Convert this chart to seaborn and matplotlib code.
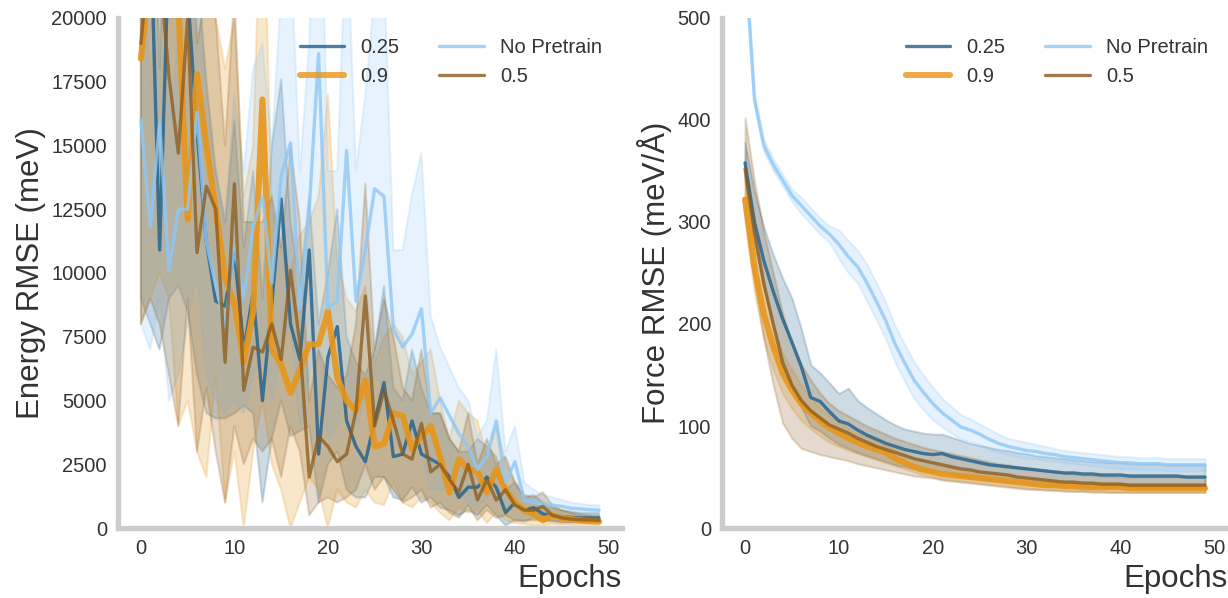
import numpy as np
import pandas as pd
import matplotlib
matplotlib.use("Agg")
import matplotlib.pyplot as plt
import seaborn as sns

epochs = list(range(50))
series_names = ["0.25", "0.9", "No Pretrain", "0.5"]

# ---------------- Energy RMSE (meV) ----------------
energy_mid = {
    "0.25": [20500, 24000, 10900, 23000, 22000, 21000, 15500, 11200, 8900, 8700,
             10800, 7000, 9200, 5000, 8800, 12900, 8000, 6600, 10900, 2900,
             6700, 7900, 4200, 3200, 2600, 4200, 5700, 2800, 2900, 4200,
             2900, 2700, 2500, 2000, 1200, 1600, 1600, 2000, 1600, 600,
             1000, 700, 800, 550, 500, 450, 420, 400, 400, 390],
    "0.9": [18400, 22000, 24000, 21000, 20500, 12100, 17800, 15000, 12500, 9800,
            8800, 6500, 8500, 16800, 7000, 6400, 5300, 6200, 7200, 7200,
            8500, 5900, 5000, 4600, 5800, 3200, 3300, 4500, 4400, 3100,
            3600, 4000, 2800, 1400, 2700, 2300, 2200, 1400, 2300, 1500,
            1000, 700, 550, 300, 500, 400, 350, 300, 270, 250],
    "No Pretrain": [16000, 11800, 15900, 10100, 12500, 12500, 16300, 11200, 9500, 7900,
                    11000, 9000, 11800, 13000, 9600, 13800, 15100, 8600, 12500, 18600,
                    8600, 8900, 14800, 8900, 10900, 13300, 13000, 7800, 7100, 7600,
                    8600, 4500, 5100, 4400, 3700, 3200, 2300, 2800, 4200, 1800,
                    2600, 1100, 1000, 950, 900, 850, 780, 750, 720, 700],
    "0.5": [19000, 23000, 22000, 17700, 14700, 20000, 10800, 13400, 12500, 6500,
            13500, 5400, 7100, 6900, 8000, 6600, 10100, 7200, 2000, 3600,
            3200, 2600, 2900, 4600, 9100, 4000, 5400, 4200, 2900, 2700,
            4100, 2200, 2500, 1900, 1400, 2500, 1100, 1900, 1100, 1500,
            900, 700, 700, 850, 500, 400, 350, 330, 320, 300],
}
energy_low = {
    "0.25": [9000, 8000, 7000, 9000, 9500, 8500, 6000, 4500, 4300, 4300,
             4500, 4800, 4500, 1000, 3500, 5000, 3600, 3800, 4000, 1000,
             2500, 3000, 1500, 1200, 1200, 2000, 2000, 1200, 1100, 1600,
             1000, 1200, 800, 700, 500, 700, 500, 900, 500, 100,
             300, 250, 400, 300, 300, 250, 250, 250, 250, 250],
    "0.9": [8000, 9000, 10000, 9000, 4000, 5000, 3000, 2000, 6000, 1000,
            3000, 0, 3000, 5000, 2500, 1500, 0, 1000, 2000, 1500,
            0, 1500, 1000, 800, 1500, 1000, 900, 1800, 1000, 800,
            1200, 1000, 600, 300, 800, 600, 700, 200, 600, 300,
            200, 150, 100, 100, 150, 120, 100, 100, 100, 100],
    "No Pretrain": [8000, 7000, 9000, 5000, 6000, 8000, 10000, 6000, 5000, 4500,
                    5000, 4500, 6000, 7000, 5000, 7000, 8000, 4000, 6000, 7000,
                    3500, 4000, 6000, 4000, 5000, 6000, 5500, 3500, 3000, 3500,
                    3000, 1500, 1500, 1500, 1500, 1000, 800, 1200, 1500, 800,
                    1000, 500, 500, 500, 500, 500, 500, 500, 500, 500],
    "0.5": [8000, 9000, 8000, 6000, 4000, 9000, 3000, 5500, 3000, 1000,
            4000, 2500, 3500, 3000, 3500, 2000, 4000, 3000, 500, 1000,
            1200, 1000, 1200, 1500, 2500, 1500, 2000, 1500, 1000, 1200,
            1500, 800, 1000, 600, 400, 900, 300, 700, 400, 500,
            300, 300, 300, 300, 250, 200, 200, 200, 200, 200],
}
energy_high = {
    "0.25": [30000, 30000, 18000, 30000, 30000, 28000, 22000, 17500, 14000, 12000,
             16000, 11000, 14000, 9000, 15000, 17600, 12000, 9500, 13000, 8000,
             10000, 12500, 7500, 6500, 6000, 7000, 9500, 5500, 5000, 7000,
             5500, 4500, 4500, 3500, 3000, 3000, 3500, 3200, 2800, 1500,
             1800, 1200, 1300, 1000, 800, 700, 650, 600, 600, 580],
    "0.9": [30000, 32000, 34000, 30000, 32000, 20000, 28000, 26000, 20000, 18000,
            20000, 13000, 15000, 27000, 12500, 11000, 10000, 11500, 12000, 13000,
            17000, 10500, 9000, 8500, 9500, 6500, 7500, 8000, 7500, 6000,
            6500, 7000, 5000, 3500, 5000, 4500, 4200, 2800, 4000, 2600,
            1700, 1200, 1000, 700, 800, 700, 600, 500, 450, 420],
    "No Pretrain": [24000, 17000, 23000, 16000, 19000, 17000, 23000, 16500, 14000, 12000,
                    17000, 14000, 18000, 19000, 15000, 21000, 23000, 14000, 19000, 30000,
                    14000, 14000, 24000, 14000, 17000, 21000, 22000, 10900, 10900, 13100,
                    14700, 8300, 7100, 6300, 5500, 5000, 3600, 4200, 7000, 3000,
                    4000, 1800, 1500, 1300, 1200, 1100, 1000, 950, 900, 900],
    "0.5": [30000, 32000, 32000, 28000, 26000, 30000, 19000, 21000, 20000, 15000,
            21000, 12000, 12000, 12000, 13000, 11000, 15000, 12000, 5000, 7000,
            6000, 5500, 6000, 8000, 13500, 7000, 9000, 7500, 5500, 5000,
            7000, 4500, 4500, 3500, 3000, 4500, 2500, 3500, 2500, 2800,
            1800, 1300, 1200, 1400, 900, 700, 600, 550, 500, 480],
}

# ---------------- Force RMSE (meV/Å) ----------------
force_mid = {
    "0.25": [358, 300, 262, 232, 205, 182, 158, 128, 124, 114,
             105, 102, 96, 91, 87, 83, 80, 77, 75, 73,
             72, 73, 70, 68, 66, 64, 62, 61, 60, 59,
             58, 57, 56, 55, 54, 54, 53, 53, 52, 52,
             52, 51, 51, 51, 51, 51, 51, 50, 50, 50],
    "0.9": [322, 255, 210, 178, 152, 135, 122, 113, 105, 98,
            93, 88, 84, 80, 77, 74, 68, 64, 60, 57,
            55, 53, 52, 51, 50, 49, 48, 47, 46, 45,
            44, 43, 42, 42, 41, 41, 40, 40, 40, 40,
            40, 39, 39, 39, 39, 39, 39, 39, 39, 39],
    "No Pretrain": [560, 420, 375, 356, 341, 326, 316, 306, 296, 288,
                    278, 266, 256, 240, 222, 203, 180, 162, 145, 133,
                    122, 113, 106, 99, 96, 92, 87, 83, 80, 78,
                    76, 75, 73, 72, 70, 69, 68, 67, 66, 65,
                    64, 64, 63, 63, 63, 62, 62, 62, 62, 62],
    "0.5": [352, 290, 240, 200, 162, 140, 125, 115, 108, 101,
            97, 93, 88, 84, 80, 77, 74, 71, 68, 66,
            64, 62, 60, 58, 57, 55, 54, 53, 52, 50,
            49, 48, 47, 46, 45, 45, 44, 44, 43, 43,
            43, 42, 42, 42, 42, 42, 42, 42, 42, 42],
}
force_low = {
    "0.25": [340, 280, 235, 200, 165, 140, 118, 100, 95, 88,
             82, 78, 74, 71, 68, 65, 62, 60, 58, 56,
             55, 55, 53, 51, 49, 48, 47, 46, 45, 44,
             43, 43, 42, 42, 41, 41, 41, 40, 40, 40,
             40, 40, 40, 40, 40, 40, 40, 40, 40, 40],
    "0.9": [300, 230, 185, 155, 132, 117, 105, 97, 90, 84,
            80, 76, 73, 70, 67, 64, 61, 58, 55, 52,
            50, 48, 47, 46, 45, 44, 43, 42, 41, 40,
            39, 38, 38, 37, 37, 36, 36, 36, 36, 35,
            35, 35, 35, 35, 35, 35, 35, 35, 35, 35],
    "No Pretrain": [550, 414, 369, 350, 335, 320, 308, 298, 288, 280,
                    264, 250, 240, 222, 204, 185, 162, 144, 127, 116,
                    106, 99, 93, 87, 85, 82, 77, 74, 72, 70,
                    68, 68, 66, 66, 64, 63, 62, 61, 60, 59,
                    58, 58, 57, 57, 57, 56, 56, 56, 56, 56],
    "0.5": [310, 240, 185, 140, 103, 88, 78, 75, 72, 70,
            68, 66, 63, 61, 59, 57, 55, 53, 51, 50,
            49, 47, 46, 45, 44, 43, 42, 41, 40, 39,
            38, 38, 37, 37, 36, 36, 36, 35, 35, 35,
            35, 35, 35, 35, 35, 35, 35, 35, 35, 35],
}
force_high = {
    "0.25": [378, 330, 295, 268, 245, 225, 195, 160, 152, 142,
             132, 137, 125, 118, 112, 106, 101, 97, 95, 93,
             92, 92, 89, 86, 83, 81, 79, 77, 76, 74,
             73, 71, 70, 69, 68, 67, 66, 65, 65, 64,
             64, 63, 63, 63, 63, 62, 62, 62, 62, 62],
    "0.9": [345, 280, 235, 200, 172, 155, 140, 128, 118, 110,
            104, 98, 93, 89, 85, 81, 77, 73, 69, 66,
            63, 61, 59, 57, 56, 55, 54, 53, 52, 51,
            50, 49, 48, 47, 46, 46, 45, 45, 45, 45,
            44, 44, 44, 44, 44, 44, 44, 44, 44, 44],
    "No Pretrain": [570, 426, 381, 362, 347, 332, 324, 314, 304, 296,
                    292, 282, 272, 258, 240, 221, 198, 180, 163, 150,
                    138, 127, 119, 111, 107, 102, 97, 92, 88, 86,
                    84, 82, 80, 78, 76, 75, 74, 73, 72, 71,
                    70, 70, 69, 69, 69, 68, 68, 68, 68, 68],
    "0.5": [402, 340, 290, 250, 210, 180, 160, 145, 132, 122,
            115, 110, 105, 100, 96, 92, 88, 85, 82, 79,
            77, 75, 73, 71, 69, 67, 65, 63, 62, 60,
            59, 57, 56, 55, 54, 53, 52, 52, 51, 51,
            50, 50, 50, 50, 50, 50, 50, 50, 50, 50],
}

colors = {"0.25": "#1f5f8b", "0.9": "#e8961a", "No Pretrain": "#8ec8f7", "0.5": "#8a5a1c"}
widths = {"0.25": 2.4, "0.9": 4.4, "No Pretrain": 2.4, "0.5": 2.4}
alphas = {"0.25": 0.8, "0.9": 0.9, "No Pretrain": 0.8, "0.5": 0.75}


def long_frame(mid, low, high):
    rows = []
    for name in series_names:
        for src in (low[name], mid[name], high[name]):
            for e, v in zip(epochs, src):
                rows.append((name, e, v))
    return pd.DataFrame(rows, columns=["run", "Epochs", "value"])


sns.set_theme(style="white")
plt.rcParams["font.family"] = ["Liberation Sans", "DejaVu Sans"]
plt.rcParams["text.color"] = "#333333"
plt.rcParams["axes.labelcolor"] = "#333333"
plt.rcParams["xtick.color"] = "#333333"
plt.rcParams["ytick.color"] = "#333333"

fig = plt.figure(figsize=(12.28, 5.98), dpi=100)
ax1 = fig.add_axes([0.0961, 0.117, 0.4104, 0.853])
ax2 = fig.add_axes([0.588, 0.117, 0.412, 0.853])

panels = [
    (ax1, long_frame(energy_mid, energy_low, energy_high), "Energy RMSE (meV)", (0, 20000),
     [0, 2500, 5000, 7500, 10000, 12500, 15000, 17500, 20000]),
    (ax2, long_frame(force_mid, force_low, force_high), "Force RMSE (meV/Å)", (0, 500),
     [0, 100, 200, 300, 400, 500]),
]

for ax, df, ylabel, ylim, yticks in panels:
    for name in series_names:
        sub = df[df["run"] == name]
        sns.lineplot(data=sub, x="Epochs", y="value", ax=ax,
                     estimator="median", errorbar=("pi", 100),
                     color=colors[name], linewidth=widths[name], alpha=alphas[name],
                     label=name, err_kws={"alpha": 0.22, "linewidth": 1.5})
    ax.set_ylim(*ylim)
    ax.set_yticks(yticks)
    ax.set_xticks([0, 10, 20, 30, 40, 50])
    ax.set_xlim(-2.45, 51.45)
    ax.set_ylabel(ylabel, fontsize=22.5)
    ax.set_xlabel("Epochs", fontsize=22.5, loc="right")
    ax.tick_params(axis="both", labelsize=14.5, length=0, pad=8)
    sns.despine(ax=ax)
    for side in ("left", "bottom"):
        ax.spines[side].set_color("#cccccc")
        ax.spines[side].set_linewidth(3.8)
    ax.grid(False)
    leg = ax.legend(ncol=2, loc="upper right", frameon=False, fontsize=14.5,
                    handlelength=2.2, columnspacing=2.0, borderaxespad=0.6)
    for line in leg.get_lines():
        line.set_alpha(0.8)

fig.savefig("out.png", dpi=100)
